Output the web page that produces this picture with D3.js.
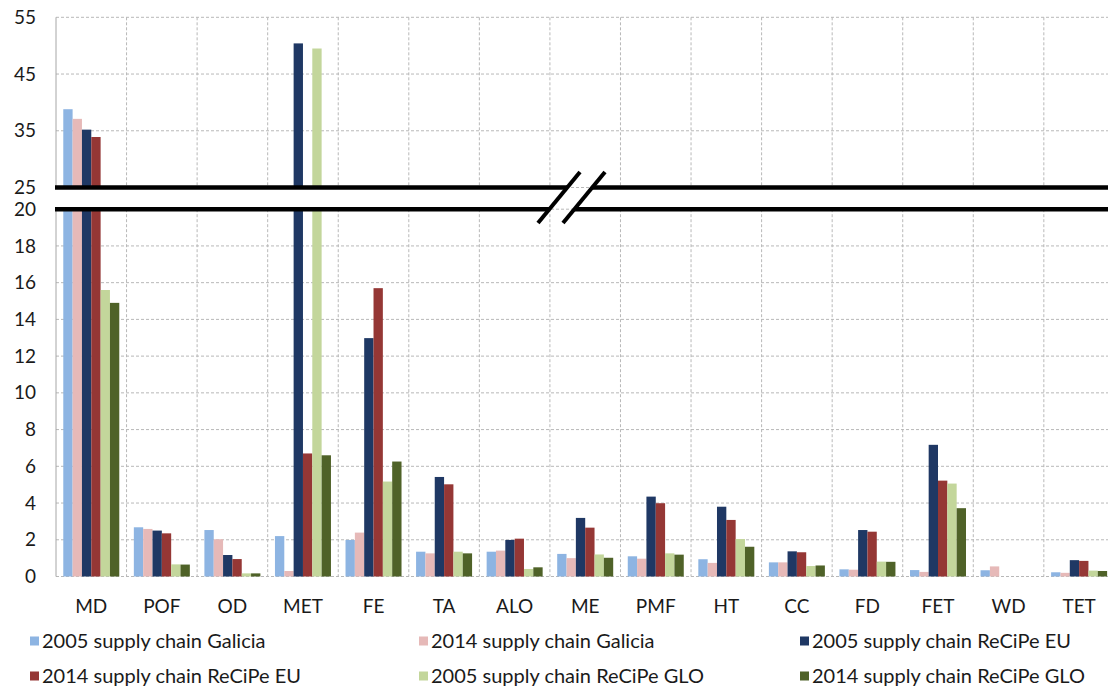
<!DOCTYPE html>
<html>
<head>
<meta charset="utf-8">
<script src="https://cdn.jsdelivr.net/npm/d3@7"></script>
<style>
  html, body { margin: 0; padding: 0; background: #fff; }
  svg { display: block; font-family: Lato, "Open Sans", sans-serif; }
</style>
</head>
<body>
<svg id="chart" width="1108" height="695"></svg>
<script>
// Impact categories on the x axis
const categories = ["MD", "POF", "OD", "MET", "FE", "TA", "ALO", "ME", "PMF", "HT", "CC", "FD", "FET", "WD", "TET"];

// Series names (legend order)
const seriesNames = [
  "2005 supply chain Galicia",
  "2014 supply chain Galicia",
  "2005 supply chain ReCiPe EU",
  "2014 supply chain ReCiPe EU",
  "2005 supply chain ReCiPe GLO",
  "2014 supply chain ReCiPe GLO"
];

// Series values, one per category
const galicia2005   = [38.8, 2.68, 2.53, 2.2, 1.99, 1.35, 1.35, 1.23, 1.10, 0.94, 0.77, 0.39, 0.35, 0.34, 0.23];
const galicia2014   = [37.1, 2.59, 2.03, 0.3, 2.39, 1.26, 1.41, 1.00, 0.97, 0.74, 0.77, 0.37, 0.25, 0.55, 0.20];
const recipeEU2005  = [35.2, 2.50, 1.17, 50.4, 12.98, 5.42, 1.99, 3.19, 4.35, 3.80, 1.37, 2.53, 7.17, 0, 0.89];
const recipeEU2014  = [33.9, 2.35, 0.95, 6.7, 15.70, 5.02, 2.06, 2.66, 3.99, 3.08, 1.32, 2.44, 5.22, 0, 0.85];
const recipeGLO2005 = [15.6, 0.66, 0.17, 49.5, 5.17, 1.35, 0.41, 1.20, 1.26, 2.04, 0.57, 0.81, 5.06, 0, 0.32];
const recipeGLO2014 = [14.9, 0.65, 0.17, 6.6, 6.26, 1.26, 0.50, 1.02, 1.19, 1.62, 0.60, 0.80, 3.72, 0, 0.30];

// Tick labels of the two y-axis segments
const lowerTicks = [0, 2, 4, 6, 8, 10, 12, 14, 16, 18, 20];
const upperTicks = [25, 35, 45, 55];

const seriesValues = [galicia2005, galicia2014, recipeEU2005, recipeEU2014, recipeGLO2005, recipeGLO2014];
const seriesColors = ["#8db4e2", "#e6b9b8", "#1f3864", "#953735", "#c3d69b", "#4f6228"];

const svg = d3.select("#chart");

// Layout
const left = 56, right = 1114.4;
const lowTop = 209.2, lowBottom = 576.5;
const upTop = 17.3, upBottom = 187.5;

const x0 = d3.scaleBand().domain(categories).range([left, right]).padding(0);
const x1 = d3.scaleBand().domain(seriesNames).range([0, x0.bandwidth()]).paddingInner(0).paddingOuter(0.78);
const yLow = d3.scaleLinear().domain([0, 20]).range([lowBottom, lowTop]);
const yUp = d3.scaleLinear().domain([25, 55]).range([upBottom, upTop]);

const gridColor = "#b8b8b8";
const grid = svg.append("g");

// Horizontal dashed gridlines
grid.selectAll("line.hl").data(lowerTicks).join("line")
  .attr("x1", left).attr("x2", right)
  .attr("y1", d => yLow(d)).attr("y2", d => yLow(d))
  .attr("stroke", gridColor).attr("stroke-dasharray", "3,2");
grid.selectAll("line.hu").data(upperTicks).join("line")
  .attr("x1", left).attr("x2", right)
  .attr("y1", d => yUp(d)).attr("y2", d => yUp(d))
  .attr("stroke", gridColor).attr("stroke-dasharray", "3,2");

// Vertical dashed gridlines on category boundaries
const bounds = categories.slice(1).map(c => x0(c));
[[yUp(55), yUp(25)], [yLow(20), yLow(0)]].forEach(([ya, yb]) => {
  grid.append("g").selectAll("line").data(bounds).join("line")
    .attr("x1", d => d).attr("x2", d => d)
    .attr("y1", ya).attr("y2", yb)
    .attr("stroke", gridColor).attr("stroke-dasharray", "3,2");
  grid.append("line")
    .attr("x1", left).attr("x2", left).attr("y1", ya).attr("y2", yb)
    .attr("stroke", "#a6a6a6").attr("stroke-width", 1);
});

// Bars: lower segment clipped at 20, upper segment shows the part above 25
const groups = svg.append("g").selectAll("g").data(seriesNames).join("g")
  .attr("fill", (d, i) => seriesColors[i]);

groups.each(function(name, si) {
  const g = d3.select(this);
  const vals = seriesValues[si];
  g.selectAll("rect.low").data(vals).join("rect")
    .attr("x", (d, i) => x0(categories[i]) + x1(name))
    .attr("width", x1.bandwidth())
    .attr("y", d => yLow(Math.min(d, 20)))
    .attr("height", d => yLow(0) - yLow(Math.min(d, 20)));
  g.selectAll("rect.up").data(vals.map((v, i) => ({v, i})).filter(o => o.v > 25)).join("rect")
    .attr("x", o => x0(categories[o.i]) + x1(name))
    .attr("width", x1.bandwidth())
    .attr("y", o => yUp(o.v))
    .attr("height", o => yUp(25) - yUp(o.v));
});

// Axis break: two heavy rules with a double slash
const breakG = svg.append("g");
const slashDx = 42, slashDy = 51;       // slash run/rise
const slashStarts = [538, 563];          // bottom-left x of each slash
const slashBottom = 223;
const slashX = (sx, y) => sx + (slashBottom - y) * slashDx / slashDy;
[yUp(25), yLow(20)].forEach(y => {
  breakG.append("line")
    .attr("x1", 55).attr("x2", slashX(slashStarts[0], y))
    .attr("y1", y).attr("y2", y)
    .attr("stroke", "#000").attr("stroke-width", 4.5);
  breakG.append("line")
    .attr("x1", slashX(slashStarts[1], y)).attr("x2", 1108)
    .attr("y1", y).attr("y2", y)
    .attr("stroke", "#000").attr("stroke-width", 4.5);
});
slashStarts.forEach(sx => {
  breakG.append("line")
    .attr("x1", sx).attr("y1", slashBottom)
    .attr("x2", sx + slashDx).attr("y2", slashBottom - slashDy)
    .attr("stroke", "#000").attr("stroke-width", 4);
});

// Y axis labels
const axisFont = 19;
const styleAxis = g => {
  g.select(".domain").remove();
  g.selectAll(".tick line").remove();
  g.selectAll("text").attr("font-size", axisFont).attr("fill", "#1a1a1a")
    .attr("font-family", "Lato, 'Open Sans', sans-serif");
};
svg.append("g").attr("transform", `translate(${left},0)`)
  .call(d3.axisLeft(yLow).tickValues(lowerTicks).tickSize(0).tickPadding(20))
  .call(styleAxis);
svg.append("g").attr("transform", `translate(${left},0)`)
  .call(d3.axisLeft(yUp).tickValues(upperTicks).tickSize(0).tickPadding(20))
  .call(styleAxis);

// Category labels
svg.append("g").attr("transform", `translate(0,${lowBottom})`)
  .call(d3.axisBottom(x0).tickSize(0).tickPadding(23))
  .call(styleAxis);

// Legend: three columns, two rows
const legendCols = [30, 419, 800];
const legendRows = [641, 676];
const legend = svg.append("g").selectAll("g").data(seriesNames).join("g")
  .attr("transform", (d, i) => `translate(${legendCols[i % 3]},${legendRows[Math.floor(i / 3)]})`);
legend.append("rect")
  .attr("x", 0).attr("y", -4.5).attr("width", 9).attr("height", 9)
  .attr("fill", (d, i) => seriesColors[i]);
legend.append("text")
  .attr("x", 12).attr("y", 0).attr("dy", "0.35em")
  .attr("font-size", 20).attr("fill", "#1a1a1a")
  .text(d => d);
</script>
</body>
</html>
